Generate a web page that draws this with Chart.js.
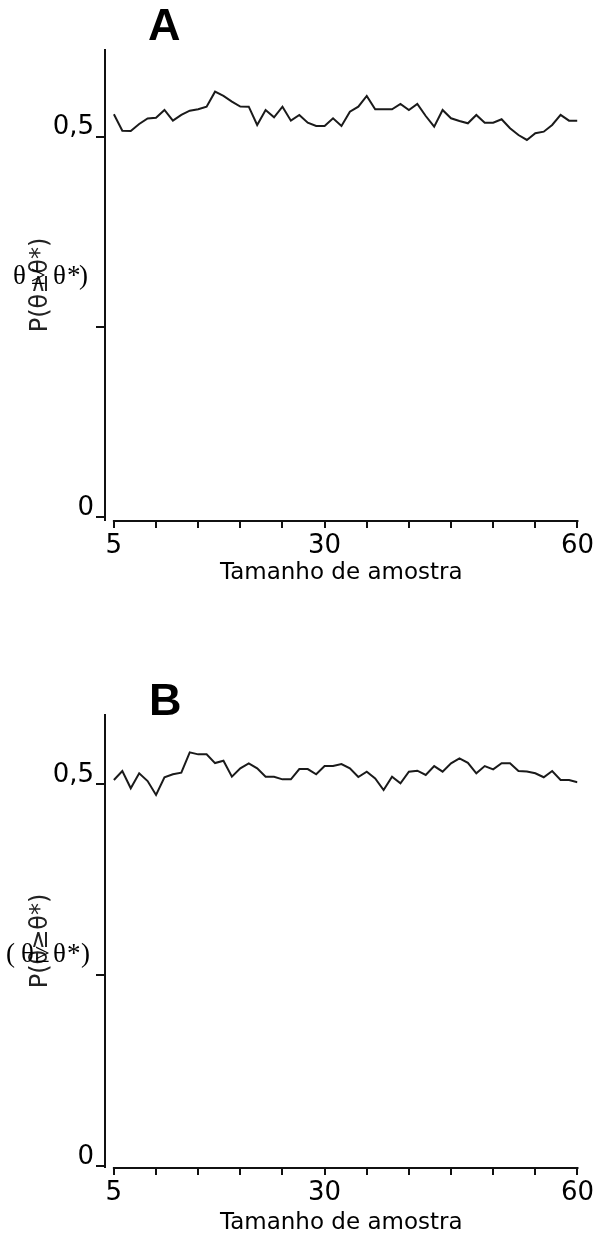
<!DOCTYPE html>
<html><head><meta charset="utf-8">
<script src="https://cdn.jsdelivr.net/npm/chart.js@4/dist/chart.umd.min.js"></script>
<style>
html,body{margin:0;padding:0;background:#fff;width:597px;height:1234px;overflow:hidden;position:relative}
.panel{position:absolute;left:0;width:597px;height:600px}
.letter{position:absolute;font-family:"Liberation Sans";font-weight:bold;font-size:45px;line-height:45px;color:#000}
.glyph{position:absolute;font-family:"Liberation Serif";font-size:27px;line-height:27px;color:#000;white-space:pre}
</style></head><body>
<div class="panel" style="top:0"><canvas id="cA" width="597" height="600"></canvas></div>
<div class="panel" style="top:647px"><canvas id="cB" width="597" height="600"></canvas></div>
<div class="letter" style="left:148px;top:2px">A</div>
<div class="letter" style="left:149px;top:677px">B</div>
<div id="ovl"></div>
<script>
// ---- data ----
const sampleSizes = [5,6,7,8,9,10,11,12,13,14,15,16,17,18,19,20,21,22,23,24,25,26,27,28,29,30,31,32,33,34,35,36,37,38,39,40,41,42,43,44,45,46,47,48,49,50,51,52,53,54,55,56,57,58,59,60];
const probA = [0.5295,0.5079,0.5075,0.5167,0.524,0.525,0.5351,0.5211,0.5286,0.5342,0.536,0.5395,0.5592,0.5536,0.5461,0.5397,0.5395,0.5154,0.5351,0.5255,0.5395,0.5211,0.5286,0.5184,0.5141,0.5141,0.5242,0.5141,0.5329,0.5395,0.5536,0.536,0.536,0.536,0.543,0.5351,0.543,0.5272,0.5132,0.5351,0.5242,0.5207,0.5176,0.5286,0.5184,0.5184,0.5229,0.5111,0.5022,0.4957,0.5045,0.5066,0.5154,0.5286,0.5211,0.5211];
const probB = [0.5056,0.5174,0.4948,0.5144,0.5043,0.486,0.5092,0.5131,0.5152,0.5418,0.5392,0.5392,0.5278,0.5308,0.510,0.5209,0.5275,0.5209,0.5099,0.5099,0.5065,0.5065,0.52,0.52,0.5131,0.5239,0.5239,0.5265,0.5209,0.5095,0.5165,0.5078,0.4925,0.5099,0.5013,0.5165,0.5178,0.5122,0.5239,0.5165,0.5275,0.534,0.5282,0.5144,0.5239,0.5196,0.5275,0.5275,0.5174,0.5167,0.5144,0.5092,0.5174,0.5056,0.5056,0.5026];
const xTickValues = [5,10,15,20,25,30,35,40,45,50,55,60];
const xTickLabels = ['5','','','','','30','','','','','','60'];
const yTickValues = [0,0.25,0.5];
const yTickLabels = ['0','','0,5'];
const xTitle = 'Tamanho de amostra';
const yTitle = 'P(θ≥θ*)';

const INK = '#111';
const xAxisLine = {
  id:'xAxisLine',
  afterDraw(chart){
    const xs = chart.scales.x, ctx = chart.ctx;
    const x0 = xs.getPixelForValue(xTickValues[0]);
    const x1 = xs.getPixelForValue(xTickValues[xTickValues.length-1]);
    ctx.save(); ctx.strokeStyle = INK; ctx.lineWidth = 2;
    ctx.beginPath(); ctx.moveTo(x0-1, xs.top+1); ctx.lineTo(x1+1, xs.top+1); ctx.stroke(); ctx.restore();
  }
};

function makeChart(id, values, yMin, yMax, padTop, padBottom){
  return new Chart(document.getElementById(id), {
    type:'line',
    data:{ datasets:[{ data: sampleSizes.map((s,i)=>({x:s, y:values[i]})), borderColor:'#1a1a1a', borderWidth:2, pointRadius:0, tension:0, fill:false }]},
    options:{
      responsive:false, animation:false, events:[],
      layout:{ padding:{ top:padTop, right:14, left:0, bottom:padBottom } },
      plugins:{ legend:{display:false}, tooltip:{enabled:false} },
      scales:{
        x:{ type:'linear', min: 5 - 9/8.527, max:60,
            afterBuildTicks:(s)=>{ s.ticks = xTickValues.map(v=>({value:v})); },
            afterFit:(s)=>{ s.height = 80 - padBottom; },
            border:{display:false},
            grid:{ drawOnChartArea:false, drawTicks:true, tickLength:8, color:INK, lineWidth:2 },
            ticks:{ autoSkip:false, maxRotation:0, padding:3, color:'#000', font:{family:'DejaVu Sans', size:26},
                    callback:(v)=>{ const i = xTickValues.indexOf(v); return i>=0 ? xTickLabels[i] : ''; } },
            title:{ display:true, text:xTitle, color:'#000', font:{family:'DejaVu Sans', size:23}, padding:{top:0,bottom:0} }
        },
        y:{ type:'linear', min:yMin, max:yMax,
            afterBuildTicks:(s)=>{ s.ticks = yTickValues.map(v=>({value:v})); },
            afterFit:(s)=>{ s.width = 105; },
            border:{display:true, color:INK, width:2},
            grid:{ drawOnChartArea:false, drawTicks:true, tickLength:9, color:INK, lineWidth:2 },
            ticks:{ padding:2, labelOffset:-9, color:'#000', font:{family:'DejaVu Sans', size:26},
                    callback:(v)=>{ const i = yTickValues.indexOf(v); return i>=0 ? yTickLabels[i] : ''; } },
            title:{ display:true, text:yTitle, color:'#222', font:{family:'DejaVu Sans', size:24}, padding:{top:26,bottom:0} }
        }
      }
    },
    plugins:[xAxisLine]
  });
}
makeChart('cA', probA, -3/760.6, 467/760.6, 50, 13);
makeChart('cB', probB, -1/763.4, 451/763.4, 68, 10);

// overlapping horizontal label fragments seen in the reference
const overlayA = [['θ',13,262],['≥',31,262],['θ',53,262],['*',67,262],[')',79,262]];
const overlayB = [['(',6,940],['θ',21,940],['≥',35,940],['θ',53,940],['*',67,940],[')',81,940]];
const ovl = document.getElementById('ovl');
[...overlayA, ...overlayB].forEach(([t,x,y])=>{
  const d = document.createElement('div'); d.className='glyph'; d.textContent=t;
  d.style.left = x+'px'; d.style.top = y+'px'; ovl.appendChild(d);
});
</script>
</body></html>
